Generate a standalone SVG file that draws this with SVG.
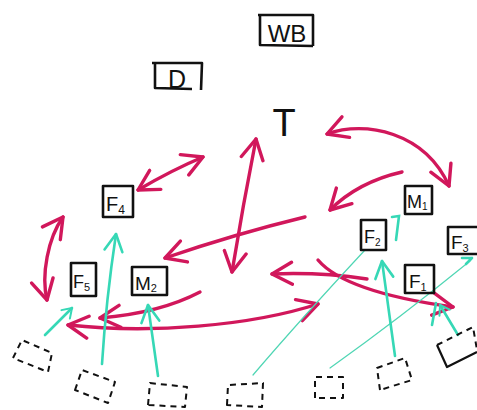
<svg xmlns="http://www.w3.org/2000/svg" width="477" height="410" viewBox="0 0 477 410">
<style>
.box{fill:none;stroke:#111;stroke-width:2.6;stroke-linejoin:round}
.dbox{fill:none;stroke:#111;stroke-width:2;stroke-dasharray:6 5;stroke-linejoin:round}
.lbl{font-family:"Liberation Sans",Arial,sans-serif;fill:#111}
.red{fill:none;stroke:#d1175b;stroke-width:3.4;stroke-linecap:round}
.teal{fill:none;stroke:#36d8b6;stroke-width:2.6;stroke-linecap:round}
.thin{fill:none;stroke:#4fd6b4;stroke-width:1.2;stroke-linecap:round}
</style>
<defs>
<marker id="rh" viewBox="-22 -13 24 26" markerWidth="24" markerHeight="26" refX="0" refY="0" orient="auto-start-reverse" markerUnits="userSpaceOnUse">
<path d="M-20,-11 L0,0 L-20,11" fill="none" stroke="#d1175b" stroke-width="3.4" stroke-linecap="round" stroke-linejoin="round"/>
</marker>
<marker id="th" viewBox="-20 -12 22 24" markerWidth="22" markerHeight="24" refX="0" refY="0" orient="auto" markerUnits="userSpaceOnUse">
<path d="M-17,-9 L0,0 L-17,9" fill="none" stroke="#36d8b6" stroke-width="2.6" stroke-linecap="round" stroke-linejoin="round"/>
</marker>
<marker id="ths" viewBox="-12 -8 14 16" markerWidth="14" markerHeight="16" refX="0" refY="0" orient="auto" markerUnits="userSpaceOnUse">
<path d="M-9,-6 L0,0 L-9,6" fill="none" stroke="#36d8b6" stroke-width="2" stroke-linecap="round" stroke-linejoin="round"/>
</marker>
</defs>
<rect width="477" height="410" fill="#fff"/>

<g id="connectors">
<path class="red" d="M138,190 Q172,170 203,157" marker-start="url(#rh)" marker-end="url(#rh)"/>
<path class="red" d="M256,139 Q243,205 232,272" marker-start="url(#rh)" marker-end="url(#rh)"/>
<path class="red" d="M327,134 C365,120 425,132 449,186" marker-start="url(#rh)" marker-end="url(#rh)"/>
<path class="red" d="M402,172 Q358,182 330,210" marker-end="url(#rh)"/>
<path class="red" d="M305,217 Q235,234 165,258" marker-end="url(#rh)"/>
<path class="red" d="M63,217 C48,238 41,275 47,300" marker-start="url(#rh)" marker-end="url(#rh)"/>
<path class="red" d="M367,279 Q320,272 272,274" marker-end="url(#rh)"/>
<path class="red" d="M318,260 Q345,292 453,307" marker-end="url(#rh)"/>
<path class="red" d="M68,325 C150,334 250,326 318,304" marker-start="url(#rh)" marker-end="url(#rh)"/>
<path class="red" d="M200,292 Q160,313 100,318" marker-end="url(#rh)"/>
<path class="teal" d="M45,335 L72,308" marker-end="url(#ths)"/>
<path class="teal" d="M102,364 Q106,300 116,234" marker-end="url(#th)"/>
<path class="teal" d="M158,376 L148,305" marker-end="url(#th)"/>
<path class="thin" d="M253,375 Q300,320 365,250"/>
<path class="thin" d="M330,368 Q400,318 470,261"/>
<path class="teal" d="M466,264 L472,258 M462,258 L472,258"/>
<path class="teal" d="M395,356 L382,261" marker-end="url(#th)"/>
<path class="teal" d="M396,240 L399,216 L392,217"/>
<path class="teal" d="M458,335 L440,305" marker-end="url(#ths)"/>
<path class="teal" d="M432,325 L436,303"/>
</g>

<g id="node-WB">
<path class="box" d="M258,15 L313,15 L313,46 M260,15 L260,45 L313,46"/>
<text class="lbl" x="287" y="42" font-size="24" text-anchor="middle">WB</text>
</g>
<g id="node-D">
<path class="box" d="M152,63 L202,63 L201,90 M155,63 L155,88 L192,89"/>
<text class="lbl" x="177" y="88" font-size="25" text-anchor="middle">D</text>
</g>
<g id="node-T">
<text class="lbl" x="284" y="136" font-size="38" text-anchor="middle">T</text>
</g>
<g id="node-F4">
<rect class="box" x="103" y="186" width="30" height="31"/>
<text class="lbl" x="106" y="211" font-size="20">F<tspan font-size="12" dy="3">4</tspan></text>
</g>
<g id="node-F5">
<rect class="box" x="71" y="263" width="25" height="33"/>
<text class="lbl" x="73" y="288" font-size="18">F<tspan font-size="11" dy="3">5</tspan></text>
</g>
<g id="node-M2">
<rect class="box" x="132" y="267" width="35" height="28"/>
<text class="lbl" x="135" y="290" font-size="19">M<tspan font-size="11" dy="2">2</tspan></text>
</g>
<g id="node-M1">
<rect class="box" x="405" y="186" width="27" height="28"/>
<text class="lbl" x="407" y="208" font-size="18">M<tspan font-size="10" dy="2">1</tspan></text>
</g>
<g id="node-F2">
<rect class="box" x="361" y="220" width="25" height="30"/>
<text class="lbl" x="364" y="243" font-size="18">F<tspan font-size="10" dy="3">2</tspan></text>
</g>
<g id="node-F3">
<rect class="box" x="448" y="227" width="32" height="27"/>
<text class="lbl" x="451" y="249" font-size="19">F<tspan font-size="11" dy="3">3</tspan></text>
</g>
<g id="node-F1">
<rect class="box" x="405" y="265" width="29" height="28"/>
<text class="lbl" x="409" y="288" font-size="19">F<tspan font-size="11" dy="3">1</tspan></text>
</g>

<g id="node-s1"><path class="dbox" d="M13,358 L22,340 L52,353 L48,372 Z"/></g>
<g id="node-s2"><path class="dbox" d="M75,390 L82,370 L115,382 L108,403 Z"/></g>
<g id="node-s3"><path class="dbox" d="M148,405 L150,383 L187,387 L185,407 Z"/></g>
<g id="node-s4"><path class="dbox" d="M227,405 L228,385 L263,383 L262,407 Z"/></g>
<g id="node-s5"><path class="dbox" d="M315,398 L315,377 L343,377 L343,398 Z"/></g>
<g id="node-s6"><path class="dbox" d="M380,390 L377,368 L405,358 L412,380 Z"/></g>
<g id="node-s7">
<path class="dbox" d="M437,345 L473,327 L477,350"/>
<path fill="none" stroke="#111" stroke-width="2.2" stroke-linejoin="round" d="M437,345 L447,367 L477,352"/>
</g>
</svg>
